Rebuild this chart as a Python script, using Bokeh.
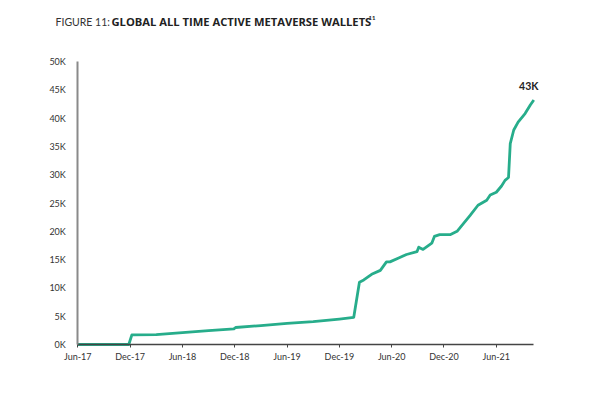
from bokeh.plotting import figure
from bokeh.models import ColumnDataSource, FixedTicker, Range1d, Label
from bokeh.embed import file_html
from bokeh.resources import INLINE

# months since Jun-2017
months = [0, 5.85, 6.2, 9.0, 12.0, 15.0, 17.9, 18.1, 21.0, 24.0, 27.0, 30.0, 31.65,
          32.3, 32.8, 33.7, 34.7, 35.4, 35.8, 36.8, 37.7, 38.9, 39.1, 39.6, 40.6,
          40.9, 41.5, 42.7, 43.5, 44.2, 45.0, 45.9, 46.9, 47.3, 48.0, 48.6, 49.0,
          49.4, 49.6, 50.0, 50.5, 51.3, 51.9, 52.3]
wallets = [0, 0, 1700, 1750, 2100, 2450, 2750, 3000, 3350, 3750, 4050, 4500, 4800,
           11000, 11400, 12400, 13100, 14600, 14600, 15300, 15900, 16400, 17200, 16800, 17900,
           19100, 19400, 19400, 20000, 21300, 22800, 24600, 25500, 26400, 26900, 28000, 29000,
           29500, 35500, 37900, 39300, 40800, 42300, 43200]

x_ticks = [0, 6, 12, 18, 24, 30, 36, 42, 48]
x_labels = ["Jun-17", "Dec-17", "Jun-18", "Dec-18", "Jun-19", "Dec-19", "Jun-20", "Dec-20", "Jun-21"]
y_ticks = [0, 5000, 10000, 15000, 20000, 25000, 30000, 35000, 40000, 45000, 50000]
y_labels = ["0K", "5K", "10K", "15K", "20K", "25K", "30K", "35K", "40K", "45K", "50K"]
y_max = 50000

FONT = "Lato"
GREEN = "#27AD8B"

W, H = 580, 376
# plot area in canvas pixels
PX_LEFT, PX_RIGHT, PX_TOP, PX_BOTTOM = 77.3, 533.3, 61.0, 344.0
ppx = (PX_RIGHT - PX_LEFT) / months[-1]
ppy = (PX_BOTTOM - PX_TOP) / y_max

p = figure(width=W, height=H, output_backend="svg", toolbar_location=None,
           x_range=Range1d(-PX_LEFT / ppx, months[-1] + (W - PX_RIGHT) / ppx),
           y_range=Range1d(-(H - PX_BOTTOM) / ppy, y_max + PX_TOP / ppy),
           min_border=0)
p.outline_line_color = None
p.xgrid.visible = False
p.ygrid.visible = False
p.background_fill_color = "white"

src = ColumnDataSource(dict(x=months, y=wallets))
p.line("x", "y", source=src, line_color=GREEN, line_width=2.8, line_join="round")

xa = p.xaxis[0]
xa.fixed_location = 0
xa.bounds = (0, months[-1])
xa.ticker = FixedTicker(ticks=x_ticks)
xa.major_label_overrides = {t: l for t, l in zip(x_ticks, x_labels)}
xa.axis_line_color = "#444444"
xa.axis_line_width = 1.5
xa.major_tick_line_color = "#444444"
xa.major_tick_in = 0
xa.major_tick_out = 3
xa.minor_tick_line_color = None
xa.major_label_text_font = FONT
xa.major_label_text_font_size = "9px"
xa.major_label_text_color = "#333333"
xa.major_label_standoff = 3

ya = p.yaxis[0]
ya.fixed_location = 0
ya.bounds = (0, y_max)
ya.ticker = FixedTicker(ticks=y_ticks)
ya.major_label_overrides = {t: l for t, l in zip(y_ticks, y_labels)}
ya.axis_line_color = "#8a8a8a"
ya.axis_line_width = 2
ya.major_tick_line_color = None
ya.minor_tick_line_color = None
ya.major_label_text_font = FONT
ya.major_label_text_font_size = "9px"
ya.major_label_text_color = "#333333"
ya.major_label_standoff = 6

end_label = Label(x=months[-1], y=wallets[-1], text=f"{round(wallets[-1] / 1000)}K",
                  text_font=FONT, text_font_style="bold", text_font_size="10.5px",
                  text_color="#222222", text_align="center", text_baseline="bottom",
                  x_offset=-5, y_offset=8)
p.add_layout(end_label)

TY = H - 21
t1 = Label(x=55, y=TY, x_units="screen", y_units="screen", text="FIGURE 11: ",
           text_font=FONT, text_font_size="10.5px", text_color="#333333",
           text_baseline="middle", text_align="left")
t2 = Label(x=111, y=TY, x_units="screen", y_units="screen",
           text="GLOBAL ALL TIME ACTIVE METAVERSE WALLETS",
           text_font="Open Sans", text_font_style="bold", text_font_size="11.2px",
           text_color="#222222", text_baseline="middle", text_align="left")
t3 = Label(x=368, y=H - 17, x_units="screen", y_units="screen", text="11",
           text_font=FONT, text_font_style="bold", text_font_size="6px", text_color="#222222",
           text_baseline="middle", text_align="left")
for t in (t1, t2, t3):
    p.add_layout(t)

open("out.html", "w").write(file_html(p, INLINE))
